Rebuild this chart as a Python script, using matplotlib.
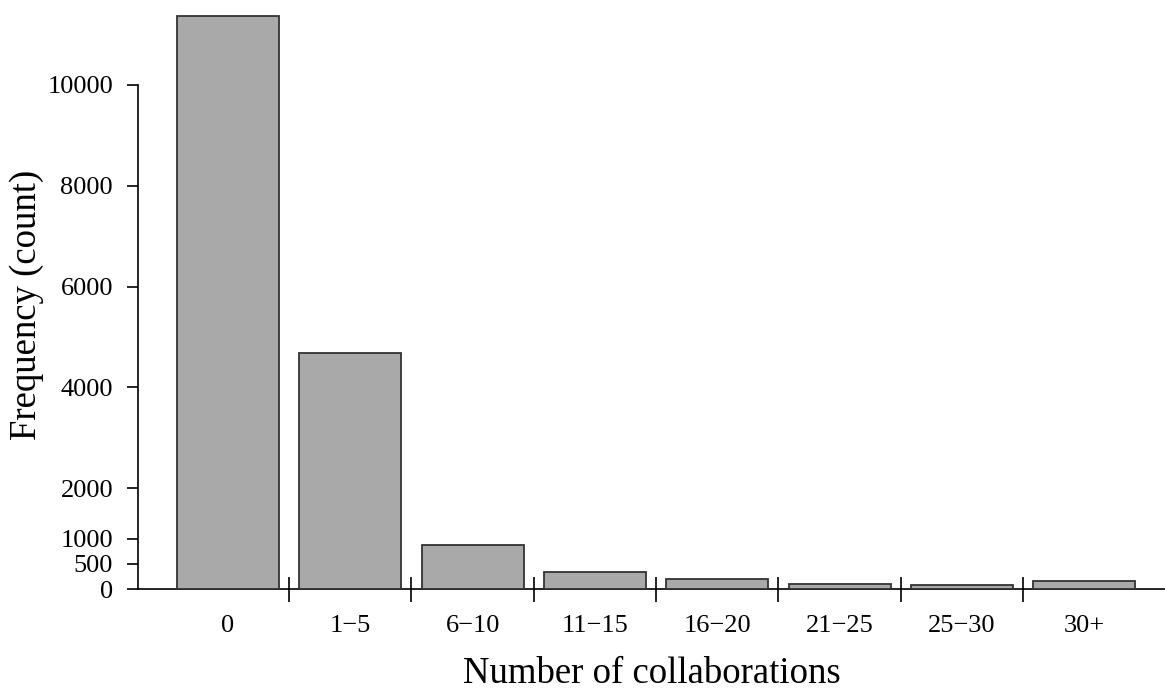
import numpy as np
import matplotlib.pyplot as plt

# Данные
categories = ['0', '1\u22125', '6\u221210', '11\u221215', '16\u221220', '21\u221225', '25\u221230', '30+']
counts = [11370, 4685, 875, 330, 200, 100, 80, 152]
yticks = [0, 500, 1000, 2000, 4000, 6000, 8000, 10000]

plt.rcParams['font.family'] = ['Liberation Serif', 'DejaVu Serif']

fig = plt.figure(figsize=(11.65, 6.9), dpi=100)
ax = fig.add_axes([138 / 1165, 101 / 690, 1 - 138 / 1165, 579 / 690])

x = np.arange(len(categories))
ax.bar(x, counts, width=0.835, color='#a9a9a9', edgecolor='#333333', linewidth=1.3, zorder=3)

ax.set_xlim(-0.735, 7.66)
ax.set_ylim(0, 11488)

# Оси в стиле base R
for s in ['top', 'right']:
    ax.spines[s].set_visible(False)
ax.spines['left'].set_bounds(0, 10000)
ax.spines['left'].set_linewidth(1.2)
ax.spines['bottom'].set_linewidth(1.2)

ax.set_yticks(yticks)
ax.set_yticklabels([str(v) for v in yticks])
ax.tick_params(axis='y', length=8, width=1.2, pad=10, labelsize=19)

ax.set_xticks(x)
ax.set_xticklabels(categories)
ax.set_xticks(x[:-1] + 0.5, minor=True)
ax.tick_params(axis='x', which='major', length=0, pad=19, labelsize=19)
ax.tick_params(axis='x', which='minor', direction='inout', length=18, width=1.2)

ax.set_xlabel('Number of collaborations', fontsize=26.5, labelpad=14)
ax.set_ylabel('Frequency (count)', fontsize=26.5)
ax.yaxis.set_label_coords(-0.0915, 0.4905)

fig.savefig('out.png', dpi=100)
